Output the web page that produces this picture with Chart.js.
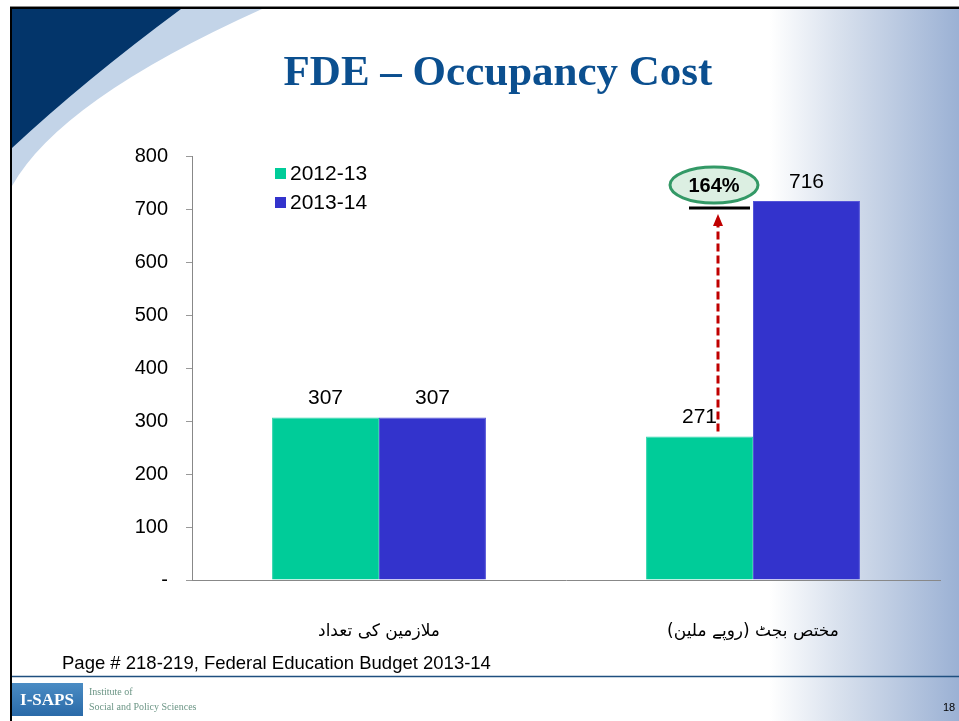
<!DOCTYPE html>
<html>
<head>
<meta charset="utf-8">
<script src="https://cdn.jsdelivr.net/npm/chart.js@4"></script>
<style>
  html, body { margin: 0; padding: 0; background: #fff; }
  #wrap { width: 959px; height: 721px; }
</style>
</head>
<body>
<div id="wrap"><canvas id="chart" width="959" height="721"></canvas></div>
<script>
// data
var categories = ['ملازمین کی تعداد', '\u200Fمختص بجٹ (روپے ملین)\u200F'];
var seriesNames = ['2012-13', '2013-14'];
var values2012 = [307, 271];
var values2013 = [307, 716];
var yTicks = [0, 100, 200, 300, 400, 500, 600, 700, 800];
var growthLabel = '164%';

var colGreen = '#00cc99';
var colBlue = '#3333cc';

// slide background, frame and footer
var slidePlugin = {
    id: 'slide',
    beforeDraw: function(chart) {
        var ctx = chart.ctx;
        var W = chart.width, H = chart.height;
        ctx.save();
        ctx.fillStyle = '#ffffff';
        ctx.fillRect(0, 0, W, H);

        // right side gradient
        var g = ctx.createLinearGradient(770, 0, W, 0);
        g.addColorStop(0, '#ffffff');
        g.addColorStop(0.35, '#dae2ee');
        g.addColorStop(1, '#9bb1d4');
        ctx.fillStyle = g;
        ctx.fillRect(770, 9, W - 770, H - 9);

        // light blue swoosh
        ctx.fillStyle = '#c3d4e8';
        ctx.beginPath();
        ctx.moveTo(12, 9);
        ctx.lineTo(262, 9);
        ctx.quadraticCurveTo(60, 100, 12, 186);
        ctx.closePath();
        ctx.fill();

        // navy corner
        ctx.fillStyle = '#03356a';
        ctx.beginPath();
        ctx.moveTo(12, 9);
        ctx.lineTo(181, 9);
        ctx.quadraticCurveTo(85, 80, 12, 148);
        ctx.closePath();
        ctx.fill();

        // frame
        ctx.fillStyle = '#888888';
        ctx.fillRect(10, 6, W - 10, 1);
        ctx.fillStyle = '#000000';
        ctx.fillRect(10, 7, W - 10, 2);
        ctx.fillRect(10, 7, 2, H - 7);

        // footer line
        ctx.strokeStyle = '#1f4f7f';
        ctx.lineWidth = 1.5;
        ctx.beginPath();
        ctx.moveTo(12, 676.5);
        ctx.lineTo(W, 676.5);
        ctx.stroke();

        // logo
        var lg = ctx.createLinearGradient(0, 683, 0, 716);
        lg.addColorStop(0, '#4a8cc4');
        lg.addColorStop(1, '#2a6aa8');
        ctx.fillStyle = lg;
        ctx.fillRect(12, 683, 71, 33);
        ctx.fillStyle = '#ffffff';
        ctx.font = 'bold 17px "Liberation Serif"';
        ctx.textAlign = 'center';
        ctx.textBaseline = 'middle';
        ctx.fillText('I-SAPS', 47, 701);
        ctx.fillStyle = '#6b9585';
        ctx.font = '10px "Liberation Serif"';
        ctx.textAlign = 'left';
        ctx.fillText('Institute of', 89, 692);
        ctx.fillText('Social and Policy Sciences', 89, 707);

        // source + page number
        ctx.fillStyle = '#000000';
        ctx.font = '18.5px "Liberation Sans"';
        ctx.fillText('Page # 218-219, Federal Education Budget 2013-14', 62, 664);
        ctx.font = '11px "Liberation Sans"';
        ctx.fillText('18', 943, 708);
        ctx.restore();
    },
    afterDatasetsDraw: function(chart) {
        var ctx = chart.ctx;
        var xs = chart.scales.x, ys = chart.scales.y;
        ctx.save();

        // value labels above bars
        ctx.fillStyle = '#000000';
        ctx.font = '21px "Liberation Sans"';
        ctx.textAlign = 'center';
        ctx.textBaseline = 'middle';
        chart.data.datasets.forEach(function(ds, i) {
            chart.getDatasetMeta(i).data.forEach(function(bar, j) {
                ctx.fillText(String(ds.data[j]), bar.x, bar.y - 19);
            });
        });

        // legend inside the plot
        ctx.textAlign = 'left';
        ctx.font = '21px "Liberation Sans"';
        chart.data.datasets.forEach(function(ds, i) {
            var y = 173 + i * 29;
            ctx.fillStyle = ds.backgroundColor;
            ctx.fillRect(275, y - 5, 11, 11);
            ctx.fillStyle = '#000000';
            ctx.fillText(ds.label, 290, y + 1);
        });

        // growth annotation on the second category
        var cx = xs.getPixelForValue(1);
        var yLow = ys.getPixelForValue(values2012[1]);
        var yHigh = ys.getPixelForValue(values2013[1]);
        var ax = cx - 35;

        ctx.strokeStyle = '#c00000';
        ctx.lineWidth = 3;
        ctx.setLineDash([8, 4]);
        ctx.beginPath();
        ctx.moveTo(ax, yLow - 5);
        ctx.lineTo(ax, yHigh + 22);
        ctx.stroke();
        ctx.setLineDash([]);
        ctx.fillStyle = '#c00000';
        ctx.beginPath();
        ctx.moveTo(ax, yHigh + 13);
        ctx.lineTo(ax - 5, yHigh + 25);
        ctx.lineTo(ax + 5, yHigh + 25);
        ctx.closePath();
        ctx.fill();

        ctx.strokeStyle = '#000000';
        ctx.lineWidth = 3;
        ctx.beginPath();
        ctx.moveTo(cx - 64, yHigh + 7);
        ctx.lineTo(cx - 3, yHigh + 7);
        ctx.stroke();

        ctx.fillStyle = '#dcefe2';
        ctx.strokeStyle = '#339966';
        ctx.lineWidth = 3;
        ctx.beginPath();
        ctx.ellipse(cx - 39, yHigh - 16, 44, 18, 0, 0, Math.PI * 2);
        ctx.fill();
        ctx.stroke();
        ctx.fillStyle = '#000000';
        ctx.font = 'bold 20px "Liberation Sans"';
        ctx.textAlign = 'center';
        ctx.fillText(growthLabel, cx - 39, yHigh - 15);
        ctx.restore();
    }
};

new Chart(document.getElementById('chart'), {
    type: 'bar',
    data: {
        labels: categories,
        datasets: [
            { label: seriesNames[0], data: values2012, backgroundColor: colGreen, borderColor: '#33d6ad', borderWidth: 1 },
            { label: seriesNames[1], data: values2013, backgroundColor: colBlue, borderColor: '#5555d8', borderWidth: 1 }
        ]
    },
    options: {
        responsive: false,
        animation: false,
        layout: { padding: { top: 0, right: 19, bottom: 0, left: 56 } },
        datasets: { bar: { categoryPercentage: 0.572, barPercentage: 1 } },
        plugins: {
            legend: { display: false },
            tooltip: { enabled: false },
            title: {
                display: true,
                text: 'FDE – Occupancy Cost',
                color: '#0b4f8f',
                font: { family: '"Liberation Serif"', size: 43, weight: 'bold', lineHeight: 1.2 },
                padding: { top: 48, bottom: 57 }
            }
        },
        scales: {
            x: {
                afterFit: function(scale) { scale.height = 141; },
                grid: { display: false, drawTicks: false },
                border: { display: true, color: '#888888', width: 1 },
                ticks: {
                    color: '#000000',
                    maxRotation: 0,
                    padding: 41,
                    font: { family: '"DejaVu Sans"', size: 17 }
                }
            },
            y: {
                min: 0,
                max: 800,
                afterFit: function(scale) { scale.width = 136; },
                afterBuildTicks: function(scale) {
                    scale.ticks = yTicks.map(function(v) { return { value: v }; });
                },
                grid: { drawOnChartArea: false, drawTicks: true, tickLength: 6, color: '#999999' },
                border: { display: true, color: '#888888', width: 1 },
                ticks: {
                    color: '#000000',
                    padding: 18,
                    font: { family: '"Liberation Sans"', size: 20 },
                    callback: function(v) { return v === 0 ? '-' : v; }
                }
            }
        }
    },
    plugins: [slidePlugin]
});
</script>
</body>
</html>
